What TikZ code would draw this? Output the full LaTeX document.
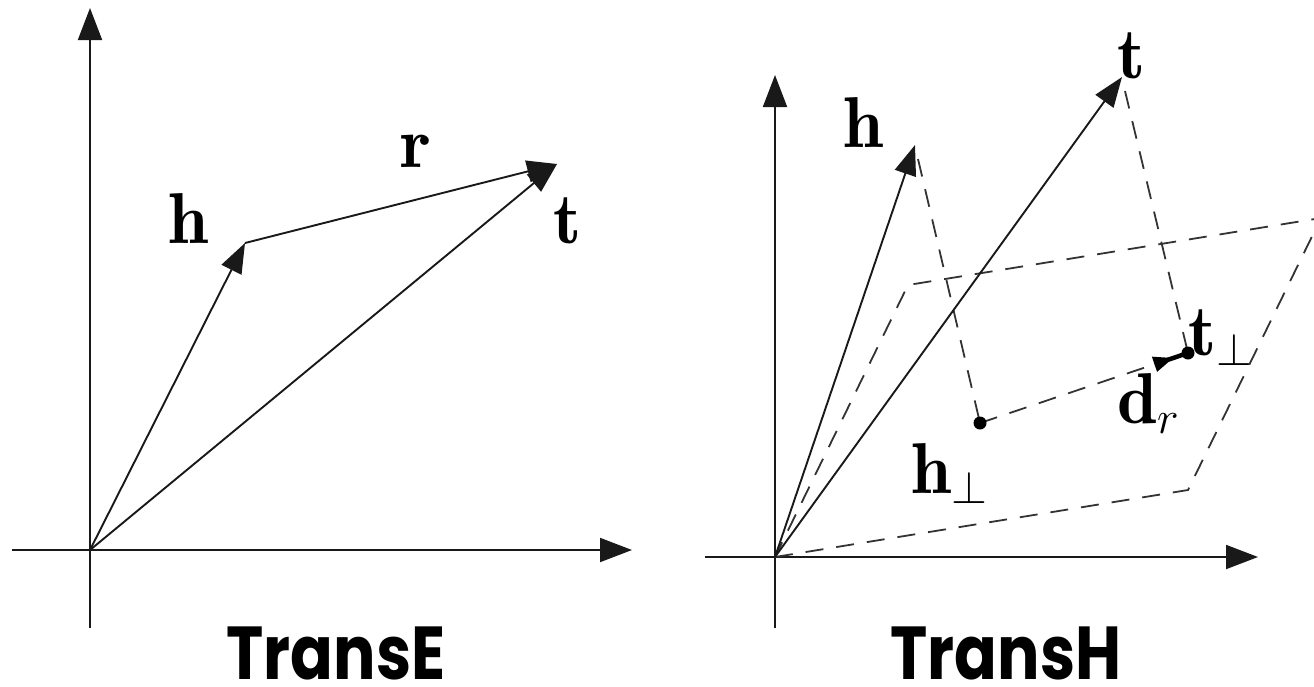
\RequirePackage{fix-cm}
\documentclass[tikz,border=0pt]{standalone}
\usepackage{fontspec}
\newfontfamily\titlefont{Poppins}[UprightFont=* Bold]
\DeclareMathSizes{72}{72}{46}{34}
\usetikzlibrary{arrows.meta,calc}
\begin{document}
\begin{tikzpicture}[x=1pt,y=-1pt,
  ln/.style={line width=1.9pt,draw=black!90},
  axis/.style={ln,-{Triangle[length=32pt,width=24pt]}},
  vec/.style={ln,-{Triangle[length=30pt,width=22pt]}},
  dsh/.style={line width=1.8pt,draw=black!80,dash pattern=on 18pt off 13pt},
  lbl/.style={font=\fontsize{72}{80}\selectfont,inner sep=0pt,anchor=base west},
  ttl/.style={font=\titlefont\fontsize{75}{86}\selectfont,inner sep=0pt,anchor=base},
  dot/.style={circle,fill=black,inner sep=0pt,minimum size=13pt}]
\useasboundingbox (0,0) rectangle (1314,686);
\clip (0,0) rectangle (1314,686);
% ---------- TransE ----------
\coordinate (o1) at (90,550);
\coordinate (yb1) at (90,628);
\coordinate (yt1) at (90,8);
\coordinate (xl1) at (12,550);
\coordinate (xr1) at (632,550);
\coordinate (h1) at (245,243);
\coordinate (t1) at (557,164);
\draw[axis] (yb1) -- (yt1);
\draw[axis] (xl1) -- (xr1);
\draw[vec] (o1) -- (h1);
\draw[vec] (h1) -- (t1);
\draw[vec] (o1) -- (t1);
\node[lbl] (lh1) at (168,243) {$\mathbf{h}$};
\node[lbl] (lr1) at (400,167) {$\mathbf{r}$};
\node[lbl] (lt1) at (553,243) {$\mathbf{t}$};
\node[ttl] (te) at (336,679) {\scalebox{0.84}[1]{TransE}};
% ---------- TransH ----------
\coordinate (o2) at (775,557);
\coordinate (yb2) at (775,628);
\coordinate (yt2) at (775,75);
\coordinate (xl2) at (705,557);
\coordinate (xr2) at (1258,557);
\coordinate (h2) at (915,145);
\coordinate (t2) at (1122,77);
\coordinate (p1) at (1188,490);
\coordinate (p2) at (1321,218);
\coordinate (p3) at (908,285);
\coordinate (hp) at (980,423);
\coordinate (tp) at (1188,353);
\draw[axis] (yb2) -- (yt2);
\draw[axis] (xl2) -- (xr2);
\draw[dsh] (o2) -- (p1) -- (p2) -- (p3) -- cycle;
\draw[dsh] ($(h2)+(3,14)$) -- (hp);
\draw[dsh] ($(t2)+(3,14)$) -- (tp);
\draw[vec] (o2) -- (h2);
\draw[vec] (o2) -- (t2);
\draw[dsh] (hp) -- ($(hp)!0.85!(tp)$);
\draw[line width=3.5pt,-{Triangle[length=20pt,width=15pt]}] ($(hp)!0.84!(tp)$) -- ($(hp)!0.93!(tp)$);
\draw[line width=4.5pt] ($(hp)!0.9!(tp)$) -- (tp);
\node[dot] (dhp) at (hp) {};
\node[dot] (dtp) at (tp) {};
\node[lbl] (lh2) at (843,147) {$\mathbf{h}$};
\node[lbl] (lt2) at (1117,78) {$\mathbf{t}$};
\node[lbl] (lhp) at (911,493) {$\mathbf{h}_\perp$};
\node[lbl] (ltp) at (1188,355) {$\mathbf{t}_\perp$};
\node[lbl] (ldr) at (1117,423) {$\mathbf{d}_r$};
\node[ttl] (th) at (1006,679) {\scalebox{0.84}[1]{TransH}};
\end{tikzpicture}
\end{document}
